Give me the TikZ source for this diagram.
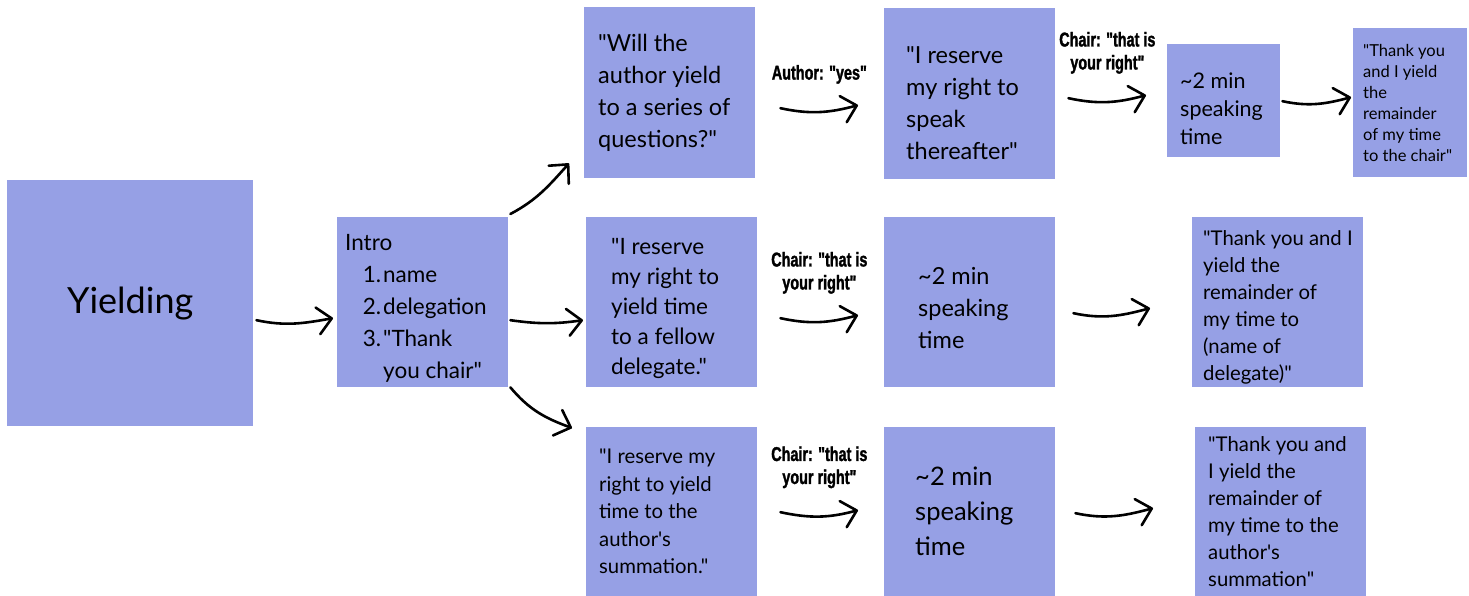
\documentclass[tikz,border=0pt]{standalone}
\usepackage{fontspec}
\setmainfont{Lato}[Ligatures=TeXOff]
\newfontfamily\lblfont[FakeStretch=0.72, FakeBold=1.5]{Liberation Sans}
\usetikzlibrary{arrows.meta,positioning}
\definecolor{cardblue}{RGB}{150,160,229}

\begin{document}
\begin{tikzpicture}[
  x=1pt, y=1pt,
  card/.style={fill=cardblue, anchor=north west, inner sep=0pt},
  txt/.style={align=left, inner sep=0pt},
  arr/.style={-{Straight Barb[length=14pt, width=27pt, round]}, line width=2.6pt, line cap=round},
  lbl/.style={font=\lblfont\bfseries\fontsize{20}{23}\selectfont, align=center, inner sep=0pt}
]
\useasboundingbox (0,0) rectangle (1469,596);

% start
\node[card, minimum width=246pt, minimum height=246pt, font=\fontsize{36}{40}\selectfont] (yield) at (7,416) {Yielding};
\node[card, minimum width=171pt, minimum height=170pt] (intro) at (337,379) {};
\node[txt, font=\fontsize{22.5}{32}\selectfont, right=8pt of intro.west, yshift=-6pt] (intro-t)
  {Intro\\ \hspace*{18pt}\makebox[18pt][r]{1.}\hspace{2pt}name\\ \hspace*{18pt}\makebox[18pt][r]{2.}\hspace{2pt}delegation\\ \hspace*{18pt}\makebox[18pt][r]{3.}\hspace{2pt}"Thank\\ \hspace*{38pt}you chair"};

% top row: questions
\node[card, minimum width=171pt, minimum height=171pt] (ask) at (584,589) {};
\node[txt, font=\fontsize{23.5}{32}\selectfont, right=14pt of ask.west] (ask-t)
  {"Will the\\ author yield\\ to a series of\\ questions?"};
\node[card, minimum width=171pt, minimum height=171pt] (speak) at (884,588) {};
\node[txt, font=\fontsize{23.5}{32}\selectfont, right=22pt of speak.west, yshift=-9pt] (speak-t)
  {"I reserve\\ my right to\\ speak\\ thereafter"};
\node[card, minimum width=113pt, minimum height=113pt] (time1) at (1167,552) {};
\node[txt, font=\fontsize{21.5}{28}\selectfont, right=13pt of time1.west, yshift=-8pt] (time1-t)
  {\textasciitilde2 min\\ speaking\\ time};
\node[card, minimum width=114pt, minimum height=149pt] (chair) at (1353,568) {};
\node[txt, font=\fontsize{16.5}{21}\selectfont, right=10pt of chair.west] (chair-t)
  {"Thank you\\ and I yield\\ the\\ remainder\\ of my time\\ to the chair"};

% middle row: fellow delegate
\node[card, minimum width=171pt, minimum height=170pt] (fellow) at (586,379) {};
\node[txt, font=\fontsize{22.5}{30}\selectfont, right=25pt of fellow.west, yshift=-6pt] (fellow-t)
  {"I reserve\\ my right to\\ yield time\\ to a fellow\\ delegate."};
\node[card, minimum width=171pt, minimum height=170pt] (time2) at (884,379) {};
\node[txt, font=\fontsize{23.5}{32}\selectfont, right=34pt of time2.west, yshift=-6pt] (time2-t)
  {\textasciitilde2 min\\ speaking\\ time};
\node[card, minimum width=171pt, minimum height=170pt] (deleg) at (1192,379) {};
\node[txt, font=\fontsize{20.3}{27}\selectfont, right=11pt of deleg.west, yshift=-5pt] (deleg-t)
  {"Thank you and I\\ yield the\\ remainder of\\ my time to\\ (name of\\ delegate)"};

% bottom row: summation
\node[card, minimum width=171pt, minimum height=169pt] (summ) at (586,169) {};
\node[txt, font=\fontsize{20.3}{27.5}\selectfont, right=13pt of summ.west] (summ-t)
  {"I reserve my\\ right to yield\\ time to the\\ author's\\ summation."};
\node[card, minimum width=171pt, minimum height=169pt] (time3) at (884,169) {};
\node[txt, font=\fontsize{25.5}{35}\selectfont, right=31pt of time3.west] (time3-t)
  {\textasciitilde2 min\\ speaking\\ time};
\node[card, minimum width=171pt, minimum height=169pt] (sumend) at (1195,169) {};
\node[txt, font=\fontsize{20.3}{27}\selectfont, right=13pt of sumend.west] (sumend-t)
  {"Thank you and\\ I yield the\\ remainder of\\ my time to the\\ author's\\ summation"};

% arrows
\draw[arr] ([shift={(3,-17)}]yield.east) to[out=-12, in=190] ([shift={(-4,-16)}]intro.west);
\draw[arr] ([shift={(2,3)}]intro.north east) to[out=28, in=228] ([shift={(-15,15)}]ask.south west);
\draw[arr] ([shift={(2,-18)}]intro.east) to[out=-8, in=188] ([shift={(-3,-18)}]fellow.west);
\draw[arr] ([shift={(2,0)}]intro.south east) to[out=-50, in=160] ([shift={(-14,-1)}]summ.north west);

\draw[arr] ([shift={(25,-15.5)}]ask.east) to[out=-12, in=195]
  node[lbl, above=27pt] (yes-l) {Author: "yes"} ([shift={(-26,-11.5)}]speak.west);
\draw[arr] ([shift={(13,-4.5)}]speak.east) to[out=-12, in=195]
  node[lbl, above=27pt] (right1-l) {Chair: "that is\\ your right"} ([shift={(-21,5.5)}]time1.west);
\draw[arr] ([shift={(2,-0.5)}]time1.east) to[out=-12, in=195] ([shift={(-2,5.5)}]chair.west);

\draw[arr] ([shift={(23,-16)}]fellow.east) to[out=-12, in=195]
  node[lbl, above=27pt] (right2-l) {Chair: "that is\\ your right"} ([shift={(-26,-13)}]time2.west);
\draw[arr] ([shift={(18,-11)}]time2.east) to[out=-12, in=195] ([shift={(-42,-6)}]deleg.west);

\draw[arr] ([shift={(23,-0.5)}]summ.east) to[out=-12, in=195]
  node[lbl, above=27pt] (right3-l) {Chair: "that is\\ your right"} ([shift={(-26,1.5)}]time3.west);
\draw[arr] ([shift={(20,-1.5)}]time3.east) to[out=-12, in=195] ([shift={(-42,3.5)}]sumend.west);
\end{tikzpicture}
\end{document}
